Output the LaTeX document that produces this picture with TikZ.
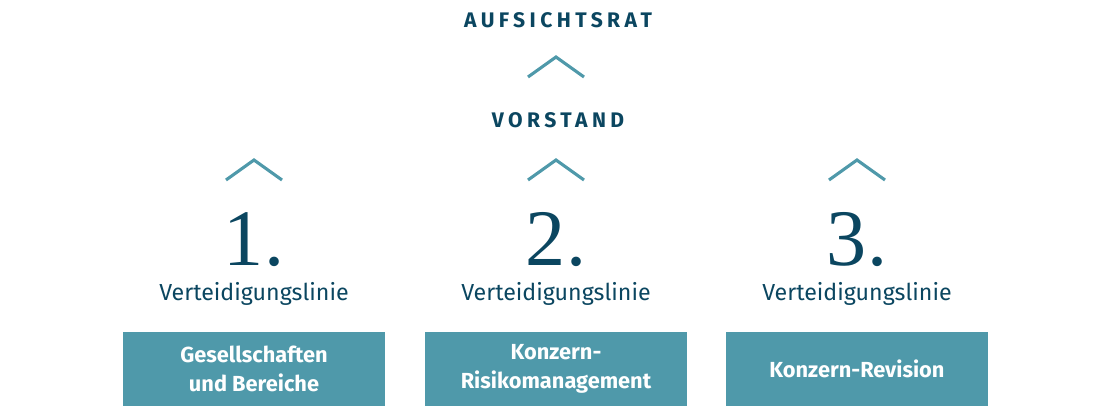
\documentclass[tikz,border=0pt]{standalone}
\usepackage{fontspec}
\setsansfont{Fira Sans}
\newfontfamily\numfont{Liberation Serif}
\usetikzlibrary{positioning}
\definecolor{darkteal}{HTML}{0B4660}
\definecolor{lightteal}{HTML}{4F99AA}

\begin{document}
\begin{tikzpicture}[x=0.025cm, y=-0.025cm,
	chevron/.style={lightteal, line width=2.2pt, line cap=butt},
	headline/.style={darkteal, font=\sffamily\fontsize{15}{18}\selectfont\bfseries\addfontfeature{LetterSpace=21}},
	number/.style={darkteal, font=\numfont\fontsize{57}{60}\selectfont},
	linetext/.style={darkteal, font=\sffamily\fontsize{16.5}{20}\selectfont},
	unitbox/.style={fill=lightteal, text=white, align=center, minimum width=6.525cm, minimum height=1.85cm, inner sep=0pt, font=\sffamily\fontsize{15.5}{21}\selectfont\bfseries}]

\useasboundingbox (0,0) rectangle (1120,420);

\def \ya{28}   % baseline Aufsichtsrat
\def \yb{128}  % baseline Vorstand

\node[headline, anchor=base] (aufsichtsrat) at (558, \ya) {AUFSICHTSRAT};
\node[headline, anchor=base] (vorstand) at (558, \yb) {VORSTAND};

\coordinate (top chev) at (556, 67);
\draw[chevron] (top chev) ++(-28, 10) -- ++(28, -20) -- ++(28, 20); % vorstand -> aufsichtsrat

\foreach \i/\x/\txt in {1/254/{Gesellschaften\\und Bereiche}, 2/556/{Konzern-\\Risikomanagement}, 3/857/{Konzern-Revision}} {
	\coordinate (chev\i) at (\x, 170);
	\draw[chevron] (chev\i) ++(-28, 10) -- ++(28, -20) -- ++(28, 20); % line -> vorstand
	\node[number, anchor=base] (nr\i) at (\x, 265) {\i.};
	\node[linetext, anchor=base] (line\i) at (\x, 300) {Verteidigungslinie};
	\node[unitbox] (unit\i) at (\x, 369) {\txt};
}

\end{tikzpicture}
\end{document}
